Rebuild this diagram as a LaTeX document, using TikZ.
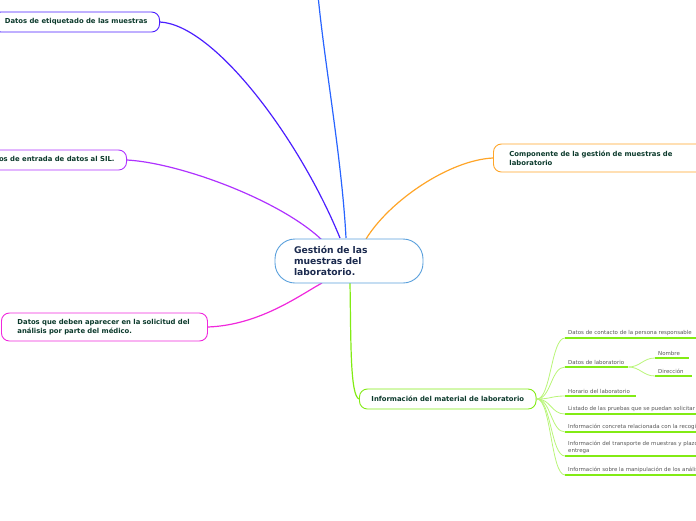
\documentclass[tikz,border=0pt]{standalone}
\usepackage{fontspec}
\setmainfont{DejaVu Sans}
\definecolor{cblue}{RGB}{90,160,220}
\definecolor{ctext}{RGB}{27,42,78}
\definecolor{btext}{RGB}{12,58,44}
\definecolor{ltext}{RGB}{85,85,85}
\definecolor{cetiq}{RGB}{75,30,255}
\definecolor{ctop}{RGB}{40,100,255}
\definecolor{csil}{RGB}{175,50,255}
\definecolor{cmag}{RGB}{240,40,220}
\definecolor{corange}{RGB}{255,165,40}
\definecolor{cgreen}{RGB}{130,235,20}
\definecolor{cgreenl}{RGB}{185,245,120}
\begin{document}
\begin{tikzpicture}[x=1pt,y=-1pt,
  central/.style={draw=cblue,line width=0.9pt,fill=white,rounded corners=20pt,
    minimum width=148pt,minimum height=44pt,inner xsep=19pt,inner ysep=4pt,
    text width=110pt,align=left,text=ctext,
    font=\fontsize{9.2}{11}\selectfont\bfseries},
  branch/.style={line width=0.9pt,fill=white,rounded corners=8pt,
    minimum height=20pt,inner xsep=12pt,inner ysep=3pt,text=btext,
    font=\fontsize{6.85}{9}\selectfont\bfseries},
  leaf/.style={inner xsep=3pt,inner ysep=2pt,text=ltext,align=left,
    font=\fontsize{5.45}{7}\selectfont},
  uline/.style={cgreen,line width=1.3pt},
  lconn/.style={cgreenl,line width=0.8pt},
  conn/.style={line width=1.2pt}]
\useasboundingbox (0,0) rectangle (696,520);
\clip (0,0) rectangle (696,520);

\coordinate (top) at (318,-5);
\coordinate (cEtiq) at (340,238);
\coordinate (cTop) at (346,238);
\coordinate (cSil) at (322,240);
\coordinate (cOr) at (366,239);
\coordinate (cMag) at (322,283);
\coordinate (cGr) at (350,283);

\node[branch,draw=cetiq,anchor=east] (etiq) at (160,22) {Datos de etiquetado de las muestras};
\node[branch,draw=csil,anchor=east] (sil) at (127,160) {Requisitos de entrada de datos al SIL.};
\node[branch,draw=cmag,anchor=west,inner xsep=16pt,minimum height=28pt,text width=174pt,align=left] (mag) at (1,327)
  {Datos que deben aparecer en la solicitud del\\análisis por parte del médico.};
\node[branch,draw=corange,anchor=west,inner xsep=16pt,minimum height=28pt,text width=180pt,align=left] (orng) at (493,158)
  {Componente de la gestión de muestras de\\laboratorio};
\node[branch,draw=cgreen,anchor=west,minimum height=20pt] (info) at (359,399)
  {Información del material de laboratorio};

\draw[conn,cetiq] (etiq.east) .. controls (215,25) and (300,140) .. (cEtiq);
\draw[conn,ctop] (top) .. controls (324,60) and (342,160) .. (cTop);
\draw[conn,csil] (sil.east) .. controls (180,163) and (280,200) .. (cSil);
\draw[conn,corange] (orng.west) .. controls (450,160) and (390,200) .. (cOr);
\draw[conn,cmag] (mag.east) .. controls (260,325) and (300,295) .. (cMag);
\draw[conn,cgreen] (cGr) .. controls (351,340) and (350,395) .. (info.west);

\node[central] (c) at (349,261) {Gestión de las\\muestras del\\laboratorio.};

\node[leaf,anchor=south west] (l1) at (565,338) {Datos de contacto de la persona responsable};
\node[leaf,anchor=south west] (l2) at (565,367) {Datos de laboratorio\hspace{1pt}};
\node[leaf,anchor=south west] (l21) at (655,358) {Nombre\hspace{6pt}};
\node[leaf,anchor=south west] (l22) at (655,376) {Dirección\hspace{5pt}};
\node[leaf,anchor=south west] (l3) at (565,396) {Horario del laboratorio\hspace{3pt}};
\node[leaf,anchor=south west] (l4) at (565,414) {Listado de las pruebas que se puedan solicitar};
\node[leaf,anchor=south west] (l5) at (565,432) {Información concreta relacionada con la recogida};
\node[leaf,anchor=south west] (l6) at (565,456) {Información del transporte de muestras y plazos de\\entrega};
\node[leaf,anchor=south west] (l7) at (565,475) {Información sobre la manipulación de los análisis};

\foreach \l in {l1,l4,l5,l6,l7}{
  \draw[uline] (\l.south west) -- ++(150,0);
}
\foreach \l in {l2,l21,l22,l3}{
  \draw[uline] (\l.south west) -- (\l.south east);
}
\foreach \l in {l1,l2,l3,l4,l5,l6,l7}{
  \draw[lconn] ([xshift=0.5pt]info.east) .. controls +(14,0) and +(-14,0) .. (\l.south west);
}
\foreach \l in {l21,l22}{
  \draw[lconn] (l2.south east) .. controls +(12,0) and +(-12,0) .. (\l.south west);
}
\end{tikzpicture}
\end{document}
